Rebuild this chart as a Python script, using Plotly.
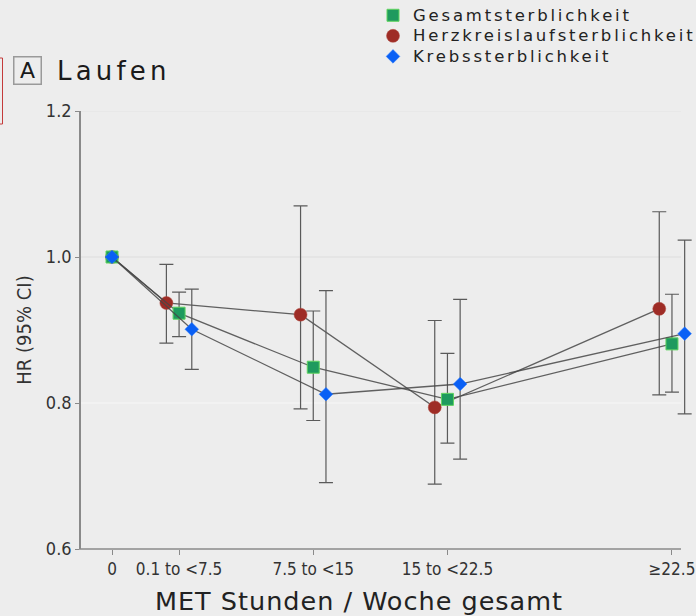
import plotly.graph_objects as go

# ---------------- data ----------------
categories = ["0", "0.1 to <7.5", "7.5 to <15", "15 to <22.5", "≥22.5"]
met_pos = [0, 3.75, 11.25, 18.75, 31.3]   # category midpoints (MET h/week)

series_names = ["Gesamtsterblichkeit", "Herzkreislaufsterblichkeit", "Krebssterblichkeit"]

hr_total = [1.0, 0.923, 0.849, 0.805, 0.881]
lo_total = [None, 0.891, 0.776, 0.745, 0.815]
hi_total = [None, 0.952, 0.926, 0.868, 0.949]

hr_cvd = [1.0, 0.937, 0.921, 0.794, 0.929]
lo_cvd = [None, 0.882, 0.792, 0.689, 0.811]
hi_cvd = [None, 0.990, 1.070, 0.913, 1.062]

hr_cancer = [1.0, 0.901, 0.812, 0.826, 0.895]
lo_cancer = [None, 0.846, 0.691, 0.723, 0.785]
hi_cancer = [None, 0.956, 0.954, 0.942, 1.023]

y_ticks = [0.6, 0.8, 1.0, 1.2]
y_ticktext = ["0.6", "0.8", "1.0", "1.2"]
grid_vals = [0.8, 1.0, 1.2]

# ---------------- layout helpers ----------------
W, H = 696, 616
ML, MR, MT, MB = 81, 3, 111, 67
PW, PH = W - ML - MR, H - MT - MB
PX_PER_UNIT = 17.89
X_RANGE = [-(112 - ML) / PX_PER_UNIT, (W - MR - 112) / PX_PER_UNIT]
AXIS_END_PX = 681          # where axis line / gridlines stop in the original


def px_x(p):
    return (p - ML) / PW


def px_y(p):
    return (H - MB - p) / PH


TICK_FONT = "Liberation Sans Narrow, DejaVu Sans Condensed, Roboto Condensed, Arial Narrow, Liberation Sans, sans-serif"
MAIN_FONT = "DejaVu Sans, Verdana, sans-serif"

styles = {
    "Gesamtsterblichkeit": dict(symbol="square", color="#1e9a5e", line=dict(color="#5fd45f", width=1), size=12, dx=0.0, rank=1),
    "Herzkreislaufsterblichkeit": dict(symbol="circle", color="#9e2c26", line=dict(color="#b04a40", width=0.5), size=13, dx=-12.7, rank=2),
    "Krebssterblichkeit": dict(symbol="diamond", color="#0a60f5", line=dict(color="#2a7aff", width=0.5), size=10.5, dx=12.7, rank=3),
}

data = {
    "Gesamtsterblichkeit": (hr_total, lo_total, hi_total),
    "Herzkreislaufsterblichkeit": (hr_cvd, lo_cvd, hi_cvd),
    "Krebssterblichkeit": (hr_cancer, lo_cancer, hi_cancer),
}

fig = go.Figure()

# draw order: red under green under blue
for name in ["Herzkreislaufsterblichkeit", "Gesamtsterblichkeit", "Krebssterblichkeit"]:
    hr, lo, hi = data[name]
    st = styles[name]
    off = st["dx"] / PX_PER_UNIT
    xs = [m + (off if m > 0 else 0) for m in met_pos]
    err_plus = [None if h is None else h - v for v, h in zip(hr, hi)]
    err_minus = [None if l is None else v - l for v, l in zip(hr, lo)]
    fig.add_trace(go.Scatter(
        x=xs, y=hr, mode="lines", showlegend=False, hoverinfo="skip",
        line=dict(color="rgba(70,70,70,0.85)", width=1.3),
    ))
    fig.add_trace(go.Scatter(
        x=xs, y=hr, mode="markers",
        name="<span style='font-size:16.5px;letter-spacing:2.8px'>" + name + "</span>",
        legendrank=st["rank"],
        marker=dict(symbol=st["symbol"], color=st["color"], size=st["size"], line=st["line"]),
        error_y=dict(type="data", array=err_plus, arrayminus=err_minus, symmetric=False,
                     color="#5a5a5a", thickness=1.2, width=7),
    ))

fig.update_layout(
    width=W, height=H,
    margin=dict(l=ML, r=MR, t=MT, b=MB, autoexpand=False),
    paper_bgcolor="#ededed",
    plot_bgcolor="#ededed",
    showlegend=True,
    legend=dict(
        x=373 / W, y=1 - (-15) / H, xanchor="left", yanchor="top",
        xref="container", yref="container",
        font=dict(family=MAIN_FONT, size=13.5, color="#222"),
        bgcolor="rgba(0,0,0,0)", tracegroupgap=0, itemwidth=30,
        traceorder="normal",
    ),
    xaxis=dict(
        range=X_RANGE, tickmode="array", tickvals=met_pos, ticktext=categories,
        showgrid=False, zeroline=False, automargin=False, showline=False,
        ticks="outside", ticklen=5, tickcolor="#8a8a8a", tickwidth=1,
        tickfont=dict(family=TICK_FONT, size=17, color="#333"),
    ),
    yaxis=dict(
        range=[0.6, 1.2], tickmode="array", tickvals=y_ticks, ticktext=y_ticktext,
        showgrid=False, zeroline=False, automargin=False,
        showline=True, linecolor="#8a8a8a", linewidth=1.6,
        ticks="outside", ticklen=4, tickcolor="#8a8a8a", tickwidth=1,
        tickfont=dict(family=TICK_FONT, size=18, color="#333"),
        title=dict(text="HR (95% CI)", font=dict(family=TICK_FONT, size=20, color="#333"), standoff=9),
    ),
    font=dict(family=MAIN_FONT),
)

# gridlines and x baseline stop short of the right edge, as in the original
grid_colors = {0.8: "#f7f7f7", 1.0: "#dedede", 1.2: "#e3e3e3"}
for gv in grid_vals:
    fig.add_shape(type="line", xref="paper", yref="y", layer="below",
                  x0=px_x(ML), x1=px_x(AXIS_END_PX), y0=gv, y1=gv,
                  line=dict(color=grid_colors[gv], width=1.2))
fig.add_shape(type="line", xref="paper", yref="paper",
              x0=px_x(79), x1=px_x(AXIS_END_PX), y0=0, y1=0,
              line=dict(color="#8a8a8a", width=1.6))

# x-axis title (offset slightly left of plot centre as in the original)
fig.add_annotation(
    text="<span style='letter-spacing:1px'>MET Stunden / Woche gesamt</span>", xref="paper", yref="paper",
    x=px_x(359), y=px_y(601), xanchor="center", yanchor="middle", showarrow=False,
    font=dict(family=MAIN_FONT, size=25.5, color="#222"),
)

# panel label "A" in a box + title
fig.add_annotation(
    text="A", xref="paper", yref="paper", x=px_x(27), y=px_y(70.5),
    xanchor="center", yanchor="middle", showarrow=False,
    width=24, height=24, bordercolor="#9a9a9a", borderwidth=1.5, borderpad=1,
    font=dict(family=MAIN_FONT, size=22, color="#1a1a1a"),
)
fig.add_annotation(
    text="<span style='letter-spacing:4.2px'>Laufen</span>", xref="paper", yref="paper",
    x=px_x(55), y=px_y(71),
    xanchor="left", yanchor="middle", showarrow=False,
    font=dict(family=MAIN_FONT, size=26, color="#1a1a1a"),
)

# thin red frame fragment at left edge of the original screenshot
fig.add_shape(type="rect", xref="paper", yref="paper",
              x0=px_x(-10), x1=px_x(2.5), y0=px_y(124), y1=px_y(58),
              line=dict(color="#c43a3a", width=1), fillcolor="rgba(0,0,0,0)")

fig.write_html(
    "out.html",
    config={"displayModeBar": False},
    post_script="document.body.style.margin='0';document.body.style.overflow='hidden';"
                "document.documentElement.style.overflow='hidden';",
)
